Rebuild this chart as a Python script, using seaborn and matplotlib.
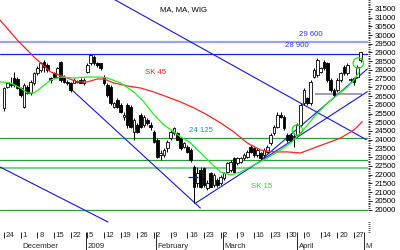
import matplotlib
matplotlib.use("Agg")
import matplotlib.pyplot as plt
import seaborn as sns
import numpy as np

# ---------------- data ----------------
opens = [25800, 27040, 27140, 27520, 27500, 26940, 25890, 27040, 26660, 27230,
         27800, 27990, 28470, 28280, 27520, 27800, 27610, 28470, 27610, 27330,
         27230, 27270, 27330, 27420, 27230, 27900, 28380, 28760, 28380, 28380,
         27610, 27130, 27040, 25890, 26280, 25990, 25320, 25990, 25890, 24460,
         24840, 25420, 24840, 25130, 24840, 24460, 23980, 23120, 23120, 23510,
         24080, 24370, 24370, 24080, 23600, 23600, 23410, 22460, 21500, 22260,
         22360, 21210, 22070, 21400, 21690, 21500, 21790, 22170, 22260, 22930,
         22650, 22740, 22930, 23030, 23600, 23510, 23120, 23220, 23120, 23310,
         23790, 24370, 24750, 25420, 25320, 24270, 24270, 24170, 24270, 24840,
         26080, 26370, 26080, 27610, 27710, 27900, 28470, 28380, 27420, 26850,
         26850, 27420, 28190, 27800, 27420, 27520, 27610, 28570]
highs = [27040, 27330, 27610, 27900, 27600, 27040, 27230, 27140, 27420, 27900,
         28200, 28470, 28570, 28380, 27610, 27900, 28190, 28500, 27700, 27420,
         27330, 27520, 27420, 27520, 27520, 28380, 28860, 28860, 28470, 28420,
         27710, 27230, 27140, 26180, 26370, 26080, 25610, 26080, 25990, 25220,
         24940, 25510, 25420, 25220, 25030, 24560, 24080, 23410, 23510, 23980,
         24560, 24750, 24460, 24170, 23890, 23700, 23510, 22550, 22460, 22460,
         22460, 21690, 22170, 22070, 21790, 21980, 22170, 22740, 22840, 23030,
         23030, 23030, 23220, 23410, 23700, 23600, 23510, 23310, 23510, 23700,
         24370, 24840, 25610, 25610, 25420, 24370, 24370, 24370, 24940, 26080,
         26940, 26470, 27420, 28090, 28660, 28190, 28570, 28470, 27520, 26940,
         27520, 27900, 28280, 28380, 27520, 27610, 28280, 29050]
lows = [25660, 26940, 27040, 27040, 26900, 26470, 25800, 26600, 26560, 27130,
        27700, 27900, 27900, 27900, 27230, 27520, 27520, 27330, 27230, 27130,
        26750, 27230, 27230, 27230, 27130, 27800, 28280, 28280, 28190, 27990,
        27130, 26470, 25990, 25800, 25800, 25510, 25130, 24650, 24650, 23980,
        24360, 24650, 24740, 24840, 24560, 23790, 22930, 22840, 23030, 23310,
        23980, 24270, 23980, 23410, 23510, 23220, 22740, 20350, 21310, 21210,
        21310, 21120, 21310, 21310, 21310, 21400, 21690, 22070, 22170, 22070,
        22550, 22650, 22840, 22930, 23220, 23030, 23030, 22840, 23030, 23220,
        23700, 24270, 24650, 25230, 24560, 23890, 23890, 23600, 24170, 24750,
        25990, 25990, 25990, 27520, 27610, 27800, 27990, 27330, 26750, 26470,
        26750, 27330, 27710, 27710, 27330, 27130, 27520, 28470]
closes = [26940, 27230, 27200, 27140, 26950, 26560, 27135, 26660, 27330, 27800,
          28090, 28380, 28190, 27990, 27420, 27610, 28090, 27420, 27330, 27230,
          26850, 27420, 27330, 27230, 27420, 28280, 28850, 28380, 28280, 28090,
          27230, 26560, 26080, 26080, 25890, 25610, 25420, 24840, 24750, 25130,
          24460, 24750, 25320, 24940, 24750, 23890, 23030, 23220, 23410, 23890,
          24460, 24650, 23980, 23510, 23790, 23310, 22840, 21310, 22070, 21310,
          21400, 21500, 21310, 21980, 21400, 21880, 22070, 22650, 22740, 22170,
          22930, 22930, 23120, 23310, 23310, 23120, 23410, 22930, 23410, 23600,
          24270, 24750, 25420, 25320, 24650, 23980, 23980, 24170, 24840, 25990,
          26850, 26080, 27330, 27990, 28570, 28090, 28090, 27420, 26850, 26560,
          27420, 27800, 27800, 28280, 27420, 27330, 28190, 29040]
volumes = [60, 70, 55, 65, 50, 60, 70, 55, 60, 50, 55, 65, 60, 50, 55, 60, 70, 50, 55, 45,
           40, 35, 40, 30, 45,
           55, 60, 50, 55, 60, 65, 55, 60, 50, 55, 60, 55, 50, 65, 55, 60, 50, 55, 60, 55,
           60, 65, 55, 60, 70, 60, 55, 60, 65, 70, 80, 90, 75, 65, 70, 60, 65, 60, 55, 70,
           65, 60, 70, 65, 60, 55, 65, 70, 60, 65, 70, 60, 65, 55, 70, 75, 65, 60, 70, 80,
           85, 75, 80,
           85, 90, 80, 95, 90, 85, 80, 95, 90, 70, 75, 80, 70, 85, 80, 75, 90, 85, 70, 95]

week_pos = [0, 5, 10, 15, 20, 25, 30, 35, 40, 45, 50, 55, 60, 65, 70, 75, 80, 85, 90, 95, 100, 105]
week_labels = ["24", "1", "8", "15", "22", "5", "12", "19", "26", "2", "9", "16", "23",
               "2", "9", "16", "23", "30", "6", "14", "20", "27"]
month_pos = [5, 24.6, 45.6, 65.6, 88, 108]
month_labels = ["December", "2009", "February", "March", "April", "M"]

ma45_x = [-1.2, 4, 9, 14, 19, 22, 25, 28, 30, 33, 37, 41, 45, 49, 53, 57, 61, 65, 69, 73,
          77, 81, 85, 89, 93, 97, 101, 105, 107.5]
ma45_y = [30860, 29710, 28740, 27880, 27540, 27310, 27310, 27480, 27480, 27250, 27080, 26960,
          26730, 26450, 26160, 25820, 25420, 24960, 24440, 23810, 23410, 23300, 23300, 23240,
          23530, 23810, 24100, 24560, 25030]
ma15_x = [-1.2, 2, 5, 7, 9, 11, 14, 17, 21, 25, 29, 31, 35, 39, 42, 45, 48, 51, 53, 56, 59,
          62, 65, 68, 71, 75, 79, 83, 86, 89, 93, 97, 100, 103, 105, 106.5]
ma15_y = [27320, 27250, 26960, 26680, 26680, 26960, 27420, 27590, 27540, 27590, 27590, 27540,
          27250, 26730, 26160, 25420, 24840, 24440, 24160, 23810, 23240, 22670, 22150, 21980,
          22150, 22550, 22950, 23410, 23810, 24380, 25300, 26100, 26560, 27020, 27420, 27880]

green_levels = [24125, 22850, 20000]
light_green_level = 22400
blue_level = 28900
lavender_level = 29600
short_level = 26620
short_span = [93.4, 107.5]

# trend lines: (x0, y0, x1, y1)
trend_lines = [
    (30.0, 32367, 108.7, 24000),
    (-1.2, 22436, 31.2, 19284),
    (20.4, 26849, 58.9, 20086),
    (57.4, 20355, 109.0, 26751),
    (77.8, 22951, 109.0, 28052),
]
marker_span = [55.3, 58.3]
marker_level = 21880
circle_x = [88.0, 106.3]
circle_y = [24556, 28396]

# ---------------- plotting ----------------
sns.set_theme(style="white")
plt.rcParams["font.family"] = ["Liberation Sans", "DejaVu Sans"]

fig = plt.figure(figsize=(4, 2.5), dpi=100)
ax = fig.add_axes([0, 0.0732, 0.92, 0.9268])
ax.set_facecolor("white")
XMIN, XMAX = -1.2, 109.2
YMIN, YMAX = 18728, 32006

# horizontal levels
ax.axhline(lavender_level, color="#a0a0f8", lw=1.6, zorder=1)
ax.axhline(blue_level, color="#1020f0", lw=0.9, zorder=1)
for lv in green_levels:
    ax.axhline(lv, color="#2f9a3f", lw=0.9, zorder=1)
ax.axhline(light_green_level, color="#7fcf9a", lw=1.6, zorder=1)
ax.hlines(short_level, short_span[0], short_span[1], color="#a898bc", lw=1.4, zorder=1)

# trend lines
for x0, y0, x1, y1 in trend_lines:
    ax.plot([x0, x1], [y0, y1], color="#1515e0", lw=0.8, zorder=2)

# candles
idx = np.arange(len(opens))
o = np.array(opens); h = np.array(highs); l = np.array(lows); c = np.array(closes)
ax.vlines(idx, l, h, color="black", lw=0.7, zorder=3)
up = c >= o
body_lo = np.minimum(o, c)
body_h = np.maximum(np.abs(c - o), 40)
ax.bar(idx[up], body_h[up], bottom=body_lo[up], width=0.72, facecolor="white",
       edgecolor="black", linewidth=0.6, zorder=4)
ax.bar(idx[~up], body_h[~up], bottom=body_lo[~up], width=0.72, facecolor="black",
       edgecolor="black", linewidth=0.6, zorder=4)
ax.hlines(marker_level, marker_span[0], marker_span[1], color="#1515e0", lw=0.9, zorder=5)

# moving averages
sns.lineplot(x=ma45_x, y=ma45_y, ax=ax, color="#ff2222", lw=0.9, zorder=5)
sns.lineplot(x=ma15_x, y=ma15_y, ax=ax, color="#22ee22", lw=0.9, zorder=5)
ax.scatter(circle_x, circle_y, s=55, facecolors="none", edgecolors="#22dd22",
           linewidths=0.9, zorder=6)

# texts
fs = 5.6
ax.text(46.8, 31433, "MA, MA, WIG", fontsize=fs, color="black", ha="left", va="center")
ax.text(92.1, 30029, "29 600", fontsize=fs, color="#3333ee", ha="center", va="center")
ax.text(88.0, 29370, "28 900", fontsize=fs, color="#3333ee", ha="center", va="center")
ax.text(45.5, 27823, "SK 45", fontsize=fs, color="#ff2020", ha="center", va="center")
ax.text(59.0, 24527, "24 125", fontsize=fs, color="#2f8f8f", ha="center", va="center")
ax.text(77.3, 21318, "SK 15", fontsize=fs, color="#22dd22", ha="center", va="center")

ax.set_xlim(XMIN, XMAX)
ax.set_ylim(YMIN, YMAX)
for s in ax.spines.values():
    s.set_visible(False)

# x axis ticks
ax.set_xticks(week_pos)
ax.set_xticklabels([""] * len(week_pos))
ax.set_xticks(month_pos, minor=True)
ax.tick_params(axis="x", which="major", direction="out", length=4.5, width=0.6,
               bottom=True, colors="black")
ax.tick_params(axis="x", which="minor", direction="out", length=13, width=0.6,
               bottom=True, colors="black")
ax.grid(False)
trans = ax.get_xaxis_transform()
for p, lab in zip(week_pos, week_labels):
    ax.text(p + 0.55, -0.017, lab, transform=trans, fontsize=5.6, ha="left", va="center",
            clip_on=False)
for p, lab in zip(month_pos, month_labels):
    ax.text(p + 0.55, -0.063, lab, transform=trans, fontsize=5.6, ha="left", va="center",
            clip_on=False)

# volume on twin axis
axv = ax.twinx()
axv.bar(idx, volumes, width=0.3, color="#3535f0", zorder=2)
axv.set_ylim(0, 2317)
axv.set_xlim(XMIN, XMAX)
axv.set_yticks([0, 20, 40, 60, 80, 100])
axv.set_yticklabels([])
axv.tick_params(axis="y", direction="out", length=1.6, width=0.5, right=True, pad=0)
for s in axv.spines.values():
    s.set_visible(False)
axv.grid(False)

# y axis on right (after twinx, which moves ticks of ax to the left)
ax.set_yticks(np.arange(20000, 31501, 500))
ax.set_yticklabels([str(v) for v in range(20000, 31501, 500)])
ax.set_yticks(np.arange(20000, 32001, 100), minor=True)
ax.tick_params(axis="y", which="both", left=False, labelleft=False, right=True, labelright=True)
ax.tick_params(axis="y", which="major", direction="out", length=3, width=0.6,
               labelsize=5.6, pad=1.5, colors="black")
ax.tick_params(axis="y", which="minor", direction="out", length=1.6, width=0.5, colors="black")

fig.savefig("out.png", dpi=100)
